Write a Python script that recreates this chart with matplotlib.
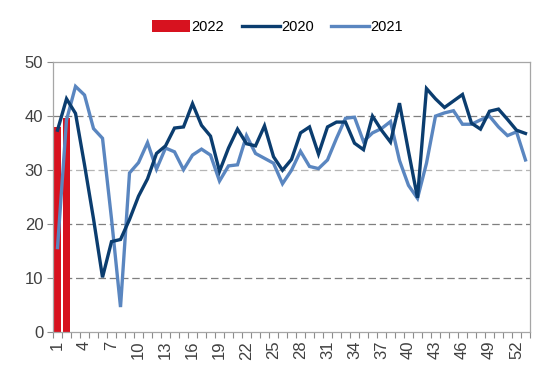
import matplotlib
matplotlib.use("Agg")
import matplotlib.pyplot as plt
import numpy as np
from matplotlib.patches import Patch
from matplotlib.lines import Line2D

weeks = list(range(1, 54))
tick_weeks = list(range(1, 53, 3))
y_ticks = [0, 10, 20, 30, 40, 50]

s2022 = [37.9, 39.6]
s2020 = [37.4, 43.2, 40.5, 31.0, 21.0, 10.2, 16.8, 17.2, 20.9, 25.2,
         28.4, 33.1, 34.5, 37.8, 38.0, 42.3, 38.3, 36.3, 29.8, 34.1,
         37.6, 34.9, 34.5, 38.2, 32.5, 30.0, 32.0, 36.9, 38.0, 33.0,
         38.0, 38.9, 38.9, 35.0, 33.8, 40.0, 37.4, 35.2, 42.4, 33.5,
         24.9, 45.1, 43.2, 41.6, 42.8, 44.0, 38.7, 37.6, 40.9, 41.3,
         39.4, 37.4, 36.8]
s2021 = [15.7, 39.3, 45.5, 43.9, 37.7, 35.9, 21.0, 4.7, 29.5, 31.4,
         35.1, 30.2, 34.1, 33.4, 30.1, 32.8, 33.9, 32.8, 28.0, 30.8,
         31.0, 36.4, 33.1, 32.2, 31.3, 27.5, 30.0, 33.5, 30.7, 30.3,
         31.9, 35.9, 39.6, 39.8, 35.3, 36.9, 37.7, 39.0, 31.8, 27.2,
         24.8, 31.3, 40.0, 40.6, 41.0, 38.5, 38.5, 39.3, 40.0, 38.0,
         36.4, 37.1, 31.9]

c_red = "#D7121F"
c_dark = "#0B3D6F"
c_light = "#5A86C0"
txt = "#404040"

plt.rcParams['font.family'] = ['Liberation Sans', 'DejaVu Sans']

fig = plt.figure(figsize=(5.5, 3.76), dpi=100)
ax = fig.add_axes([0.0964, 0.1157, 0.8672, 0.7193])

ax.bar(weeks[:len(s2022)], s2022, width=0.68, color=c_red, zorder=2)
ax.plot(weeks[:len(s2020)], s2020, color=c_dark, lw=2.4, zorder=4,
        solid_joinstyle='miter')
ax.plot(weeks[:len(s2021)], s2021, color=c_light, lw=2.4, zorder=3,
        solid_joinstyle='miter')

ax.set_xlim(0.5, 53.5)
ax.set_ylim(0, 50)
ax.set_yticks(y_ticks)
ax.set_yticklabels([str(v) for v in y_ticks], fontsize=12, color=txt)

for v in [10, 20, 40]:
    ax.axhline(v, color="#7F7F7F", lw=0.9, dashes=(6, 3), zorder=1)
ax.axhline(30, color="#B5B5B5", lw=0.9, dashes=(6, 3), zorder=1)

ax.set_xticks(tick_weeks)
ax.set_xticklabels([str(w) for w in tick_weeks], rotation=90, fontsize=12,
                   color=txt)
ax.set_xticks(np.arange(0.5, 54, 1), minor=True)
ax.tick_params(axis='x', which='major', length=0, pad=6)
ax.tick_params(axis='x', which='minor', length=4, color="#8C8C8C", width=0.8)
ax.tick_params(axis='y', which='major', length=4, color="#8C8C8C", width=0.8,
               pad=3)

for s in ax.spines.values():
    s.set_color("#A6A6A6")
    s.set_linewidth(0.9)

handles = [Patch(facecolor=c_red, edgecolor='none'),
           Line2D([0], [0], color=c_dark, lw=2.4),
           Line2D([0], [0], color=c_light, lw=2.4)]
fig.legend(handles, ["2022", "2020", "2021"], loc='center',
           bbox_to_anchor=(0.505, 0.928), ncol=3, frameon=False,
           fontsize=10.5, handlelength=2.6, handleheight=0.9,
           handletextpad=0.1, columnspacing=1.2)

fig.savefig("out.png", dpi=100)
